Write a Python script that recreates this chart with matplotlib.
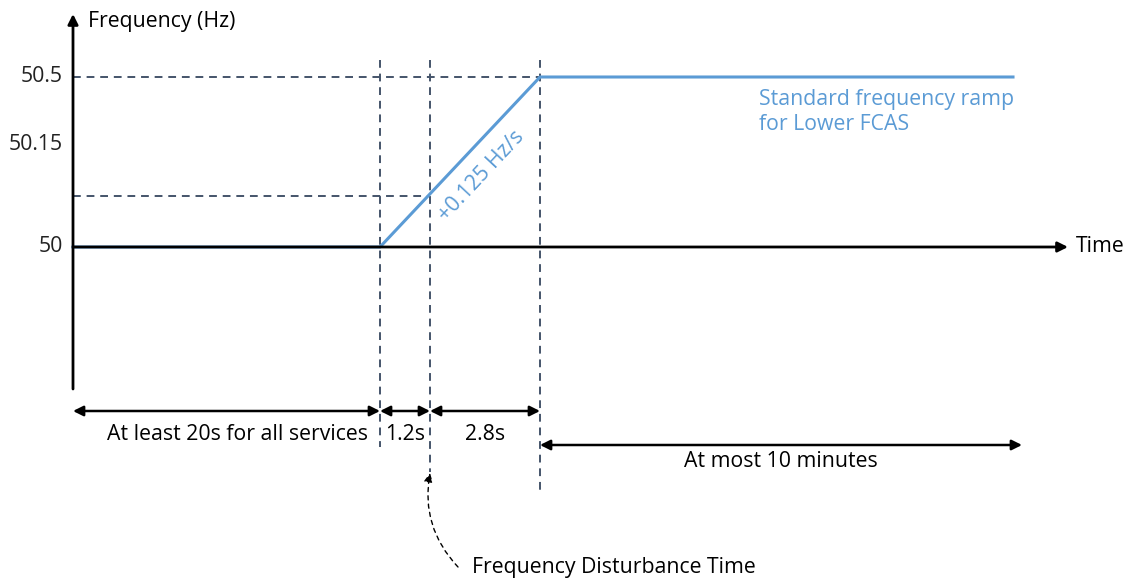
import matplotlib.pyplot as plt

# schematic positions along the time axis (diagram units, not to scale)
x_origin = 73
x_ramp_start = 380
x_disturb = 430
x_ramp_end = 540
x_flat_end = 1013
x_time_end = 1068

# frequency values (Hz)
f_nominal = 50.0
f_disturb = 50.15
f_max = 50.5
ytick_labels = ['50.5', '50.15', '50']
ytick_pos = [50.5, 50.30, 50.0]   # 50.15 label sits higher than its line in the original

curve_x = [x_origin, x_ramp_start, x_ramp_end, x_flat_end]
curve_f = [f_nominal, f_nominal, f_max, f_max]

seg_texts = ['At least 20s for all services', '1.2s', '2.8s']

blue = '#5B9BD5'
dash = '#44546A'
font = 'Open Sans'
fs = 15.3

W, H = 1138, 584
fig = plt.figure(figsize=(W / 100, H / 100), dpi=100)
ax = fig.add_axes([0, 0, 1, 1])
ax.axis('off')

# pixel row -> Hz for the vertical scale (50 Hz at row 247, 340 px per Hz)
def hz(py):
    return 50 + (247 - py) / 340

ax.set_xlim(0, W)
ax.set_ylim(hz(H), hz(0))

# axes arrows
ax.annotate('', xy=(x_origin, hz(14)), xytext=(x_origin, hz(389)),
            arrowprops=dict(arrowstyle='-|>', color='black', lw=2, mutation_scale=15, shrinkA=0, shrinkB=0))
ax.annotate('', xy=(x_time_end, f_nominal), xytext=(x_origin, f_nominal),
            arrowprops=dict(arrowstyle='-|>', color='black', lw=2, mutation_scale=15, shrinkA=0, shrinkB=0))
ax.text(88, hz(22), 'Frequency (Hz)', family=font, fontsize=fs, va='center', ha='left')
ax.text(1076, f_nominal, 'Time', family=font, fontsize=fs, va='center', ha='left')

for lab, p in zip(ytick_labels, ytick_pos):
    ax.text(63, p, lab, family=font, fontsize=fs, va='center', ha='right', color='#222222')

# dashed guides
ls = (0, (4, 3))
ax.plot([x_origin, x_ramp_end], [f_max, f_max], ls=ls, color=dash, lw=1.4)
ax.plot([x_origin, x_disturb], [f_disturb, f_disturb], ls=ls, color=dash, lw=1.4)
ax.plot([x_ramp_start, x_ramp_start], [hz(60), hz(447)], ls=ls, color=dash, lw=1.4)
ax.plot([x_disturb, x_disturb], [hz(60), hz(472)], ls=ls, color=dash, lw=1.4)
ax.plot([x_ramp_end, x_ramp_end], [hz(60), hz(490)], ls=ls, color=dash, lw=1.4)

# frequency ramp
ax.plot(curve_x, curve_f, color=blue, lw=2.2, solid_joinstyle='miter')
ax.text(481, hz(176), '+0.125 Hz/s', family=font, fontsize=fs, color=blue,
        rotation=47, ha='center', va='center', rotation_mode='anchor')
ax.text(759, hz(112), 'Standard frequency ramp\nfor Lower FCAS', family=font, fontsize=fs,
        color=blue, ha='left', va='center', linespacing=1.3)

# dimension arrows
dim = dict(arrowstyle='<|-|>', color='black', lw=1.8, mutation_scale=15, shrinkA=0, shrinkB=0)
bounds = [x_origin, x_ramp_start, x_disturb, x_ramp_end]
for i, t in enumerate(seg_texts):
    ax.annotate('', xy=(bounds[i + 1], hz(411)), xytext=(bounds[i], hz(411)), arrowprops=dim)
    cx = (bounds[i] + bounds[i + 1]) / 2
    if i == 0:
        cx = 238
    ax.text(cx, hz(435), t, family=font, fontsize=fs, ha='center', va='center')
ax.annotate('', xy=(1022, hz(445)), xytext=(x_ramp_end, hz(445)), arrowprops=dim)
ax.text(781, hz(462), 'At most 10 minutes', family=font, fontsize=fs, ha='center', va='center')

# disturbance time pointer
ax.annotate('', xy=(x_disturb, hz(473)), xytext=(458, hz(567)),
            arrowprops=dict(arrowstyle='-|>', color='black', lw=1, ls=(0, (3, 3)), mutation_scale=13,
                            shrinkA=0, shrinkB=0, connectionstyle='arc3,rad=-0.25'))
ax.text(472, hz(568), 'Frequency Disturbance Time', family=font, fontsize=fs, ha='left', va='center')

fig.savefig('out.png', dpi=100)
